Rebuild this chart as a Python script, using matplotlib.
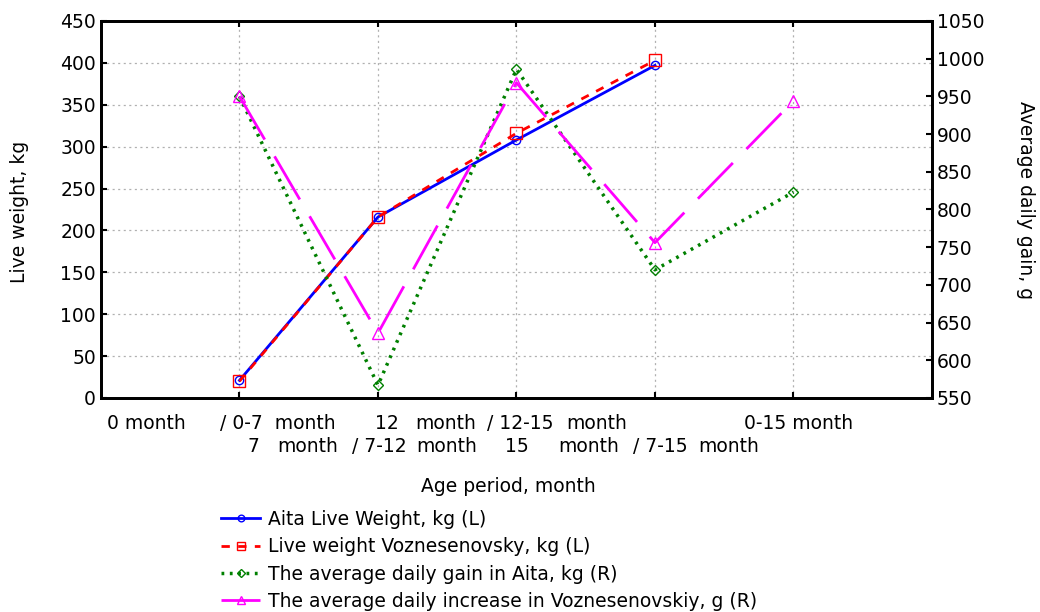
import numpy as np
import matplotlib
matplotlib.use('Agg')
import matplotlib.pyplot as plt

plt.rcParams['font.family'] = ['DejaVu Sans']
plt.rcParams['lines.scale_dashes'] = False

# data
weight_x = [1, 2, 3, 4]
aita_weight = [21, 216, 308, 397]
vozn_weight = [20, 216, 316, 403]

gain_x = [1, 2, 3, 4, 5]
aita_gain = [950, 567, 986, 720, 823]
vozn_gain = [950, 636, 968, 756, 944]

# the tick labels are drawn in two messy rows, as in the source program
row1_labels = [("0 month", 0.04), ("/ 0-7  month", 0.86), ("12", 1.98), ("month", 2.27),
               ("/ 12-15", 2.79), ("month", 3.36), ("0-15 month", 4.64)]
row2_labels = [("7", 1.06), ("month", 1.27), ("/ 7-12", 1.81), ("month", 2.28),
               ("15", 2.92), ("month", 3.30), ("/ 7-15", 3.84), ("month", 4.31)]

FS = 13.5

fig = plt.figure(figsize=(10.4, 6.12), dpi=100)
ax = fig.add_axes([0.0971, 0.3497, 0.7990, 0.6160])
ax2 = ax.twinx()

ax.set_xlim(0, 6)
ax.set_ylim(0, 450)
ax2.set_ylim(550, 1050)
ax.set_yticks(np.arange(0, 451, 50))
ax2.set_yticks(np.arange(550, 1051, 50))
ax.set_xticks([1, 2, 3, 4, 5])
ax.set_xticklabels([])

ax.grid(True, color='#b0b0b0', linestyle=(0, (1.5, 2.5)), linewidth=0.9)
ax.set_axisbelow(True)

for a in (ax, ax2):
    for s in a.spines.values():
        s.set_linewidth(2)
ax.tick_params(axis='both', direction='in', length=4, width=1.5, labelsize=FS, top=True)
ax2.tick_params(axis='y', direction='in', length=4, width=1.5, labelsize=FS)

l1, = ax.plot(weight_x, aita_weight, color='#0000ff', lw=2, marker='o', ms=6,
              mfc='none', mec='#0000ff', mew=1)
l2, = ax.plot(weight_x, vozn_weight, color='#ff0000', lw=2, ls=(0, (6, 6)), marker='s', ms=8,
              mfc='none', mec='#ff0000', mew=1)
l3, = ax2.plot(gain_x, aita_gain, color='#008000', lw=2.5, ls=(0, (2, 4)), marker='D', ms=5.5,
               mfc='none', mec='#008000', mew=1)
l4, = ax2.plot(gain_x, vozn_gain, color='#ff00ff', lw=2, ls=(0, (36, 14)), marker='^', ms=8,
               mfc='none', mec='#ff00ff', mew=1)

trans = ax.get_xaxis_transform()
for txt, xpos in row1_labels:
    ax.text(xpos, -0.067, txt, transform=trans, ha='left', va='center', fontsize=FS, clip_on=False)
for txt, xpos in row2_labels:
    ax.text(xpos, -0.128, txt, transform=trans, ha='left', va='center', fontsize=FS, clip_on=False)

fig.text(508 / 1040, 1 - 487 / 612, "Age period, month", ha='center', va='center', fontsize=FS)
fig.text(20 / 1040, 1 - 212 / 612, "Live weight, kg", rotation=90, ha='center', va='center', fontsize=FS)
fig.text(1025 / 1040, 1 - 200 / 612, "Average daily gain, g", rotation=270, ha='center', va='center',
         fontsize=FS)

handles = [l1, l2, l3, l4]
labels = ["Aita Live Weight, kg (L)",
          "Live weight Voznesenovsky, kg (L)",
          "The average daily gain in Aita, kg (R)",
          "The average daily increase in Voznesenovskiy, g (R)"]
fig.legend(handles, labels, loc='upper left', bbox_to_anchor=(221 / 1040, 1 - 510 / 612),
           frameon=False, fontsize=FS, handlelength=2.1, handletextpad=0.4,
           labelspacing=0.44, borderpad=0, borderaxespad=0, markerscale=0.8)

fig.savefig('out.png', dpi=100)
